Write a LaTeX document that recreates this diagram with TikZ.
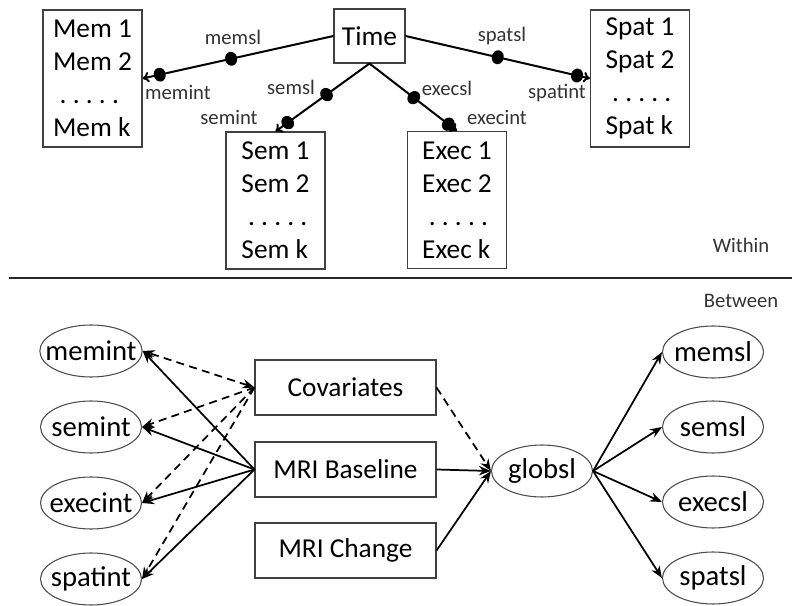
\documentclass[tikz,border=0pt]{standalone}
\usepackage{fontspec}
\setmainfont{Carlito}
\usetikzlibrary{arrows.meta,shapes.geometric}
\begin{document}
\begin{tikzpicture}[x=0.75pt,y=-0.75pt,
  big/.style={font=\fontsize{20.5}{24.75}\selectfont},
  lab/.style={font=\fontsize{15.5}{18}\selectfont,text=black!80,inner sep=0pt},
  listbox/.style={draw=black!75,line width=0.8pt,minimum width=74.25pt,minimum height=102.75pt,align=left,inner sep=0pt,big},
  rbox/.style={draw=black!75,line width=0.8pt,minimum width=135.75pt,minimum height=41.25pt,inner sep=0pt,big},
  ell/.style={ellipse,draw=black!70,line width=0.8pt,minimum width=75.75pt,minimum height=39pt,inner xsep=-7pt,inner ysep=0pt,font=\fontsize{21.5}{24}\selectfont},
  topcon/.style={line width=1.5pt,-{To[length=5pt,width=8pt]}},
  dotnode/.style={ellipse,fill=black,minimum width=9pt,minimum height=10.5pt,inner sep=0pt,sloped},
  sol/.style={line width=1.3pt,-{Stealth[length=9pt,width=7pt]}},
  dsh/.style={line width=1.3pt,dash pattern=on 6pt off 4pt,-{Stealth[length=9pt,width=7pt]}}
]
\useasboundingbox (0,0) rectangle (800,606);

% ---- Within ----
\node[listbox] (mem) at (92.5,78.5) {Mem 1\\Mem 2\\\hspace{5pt}.\ .\ .\ .\ .\\Mem k};
\node[listbox] (sem) at (275.5,200.5) {Sem 1\\Sem 2\\\hspace{5pt}.\ .\ .\ .\ .\\Sem k};
\node[listbox] (exec) at (457,200) {Exec 1\\Exec 2\\\hspace{5pt}.\ .\ .\ .\ .\\Exec k};
\node[listbox] (spat) at (640,78.5) {Spat 1\\Spat 2\\\hspace{5pt}.\ .\ .\ .\ .\\Spat k};
\node[draw=black!75,line width=0.8pt,minimum width=53.25pt,minimum height=40.5pt,inner sep=0pt,big] (time) at (369.5,36) {Time};

\draw[topcon] (time.west) -- node[dotnode,pos=0.536]{} node[dotnode,pos=0.91]{} (mem.east);
\draw[topcon] (time.south) -- node[dotnode,pos=0.457]{} node[dotnode,pos=0.87]{} (sem.north);
\draw[topcon] (time.south) -- node[dotnode,pos=0.506]{} node[dotnode,pos=0.90]{} (exec.north);
\draw[topcon] (time.east) -- node[dotnode,pos=0.5]{} node[dotnode,pos=0.93]{} (spat.west);

\node[lab] (l1) at (233,37) {memsl};
\node[lab] (l2) at (178,92) {memint};
\node[lab] (l3) at (291,87) {semsl};
\node[lab] (l4) at (229,117) {semint};
\node[lab] (l5) at (447,88) {execsl};
\node[lab] (l6) at (497,117) {execint};
\node[lab] (l7) at (502,36) {spatsl};
\node[lab] (l8) at (557,93) {spatint};
\node[lab] (within) at (741,245) {Within};

\coordinate (sepL) at (9,278);
\coordinate (sepR) at (792,278);
\draw[line width=1.6pt,black!85] (sepL) -- (sepR);

% ---- Between ----
\node[lab] (between) at (741,301) {Between};

\node[ell] (memint) at (91,351) {memint};
\node[ell] (semint) at (91,427) {semint};
\node[ell] (execint) at (91,503) {execint};
\node[ell] (spatint) at (91,579) {spatint};

\node[rbox] (cov) at (345.5,387.5) {Covariates};
\node[rbox] (base) at (345.5,469.5) {MRI Baseline};
\node[rbox] (chg) at (345.5,550.5) {MRI Change};

\node[ell] (glob) at (542,471) {globsl};

\node[ell] (memsl) at (713,352) {memsl};
\node[ell] (semsl) at (713,427) {semsl};
\node[ell] (execsl) at (713,502) {execsl};
\node[ell] (spatsl) at (713,578) {spatsl};

\draw[dsh,{Stealth[length=9pt,width=7pt]}-{Stealth[length=9pt,width=7pt]}] (cov.west) -- (memint.east);
\draw[dsh] (cov.west) -- (semint.east);
\draw[dsh] (cov.west) -- (execint.east);
\draw[dsh] (cov.west) -- (spatint.east);

\draw[sol] (base.west) -- (memint.east);
\draw[sol] (base.west) -- (semint.east);
\draw[sol] (base.west) -- (execint.east);
\draw[sol] (base.west) -- (spatint.east);

\draw[dsh] (cov.east) -- (glob.west);
\draw[sol] (base.east) -- (glob.west);
\draw[sol] (chg.east) -- (glob.west);

\draw[sol] (glob.east) -- (memsl.west);
\draw[sol] (glob.east) -- (semsl.west);
\draw[sol] (glob.east) -- (execsl.west);
\draw[sol] (glob.east) -- (spatsl.west);
\end{tikzpicture}
\end{document}
